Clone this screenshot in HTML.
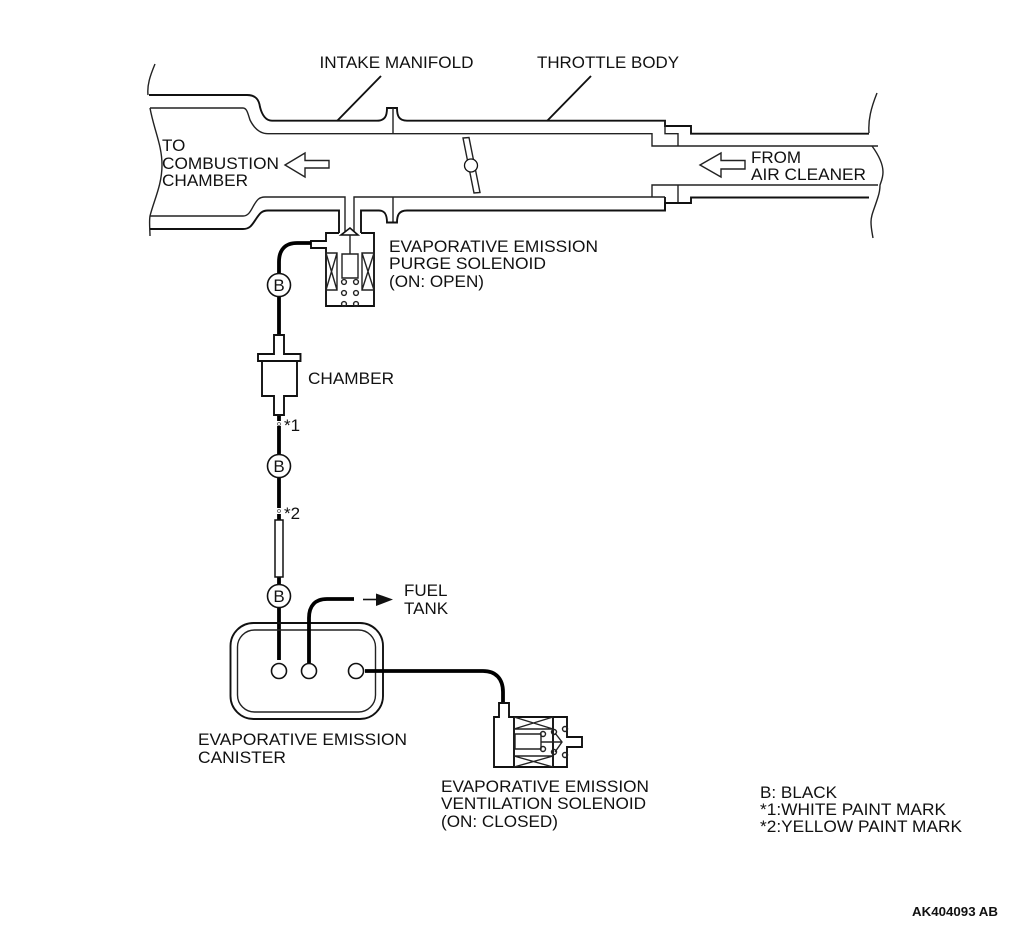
<!DOCTYPE html>
<html><head><meta charset="utf-8"><style>
html,body{margin:0;padding:0;background:#fff}
svg{display:block;filter:blur(.3px)}
text{font-family:"Liberation Sans",sans-serif;font-size:17px;fill:#111}
.a{fill:none;stroke:#111;stroke-width:1.9}
.t{fill:none;stroke:#222;stroke-width:1.4}
.k{fill:none;stroke:#000;stroke-width:3.8}
.c{fill:#fff;stroke:#111;stroke-width:1.6}
</style></head><body>
<svg width="1010" height="927" viewBox="0 0 1010 927" xmlns="http://www.w3.org/2000/svg">
<!-- break lines -->
<path class="t" d="M155 64C150 76 147 85 148 95M150 108C154 130 162 145 162 165C162 185 154 200 150 216C149 222 150 230 150 236"/>
<path class="t" d="M877 93C871 108 868 120 869 133M872 146C880 157 883 165 883 172C883 178 881 182 880 185C880 190 879 194 878 197C874 210 871 215 871 222C871 228 872 232 873 238"/>
<!-- top outer -->
<path class="a" d="M149 95H247C256 95 259 100 260 107C262 115 266 120.700 272 120.700H377C385 120.700 387 116 387 108H397C397 116 399 120.700 407 120.700H665V126H691V133.700H869"/>
<!-- top inner -->
<path class="t" d="M150 108H243C247 108 248 114 250 120C254 128 260 133.700 268 133.700H652V146H878M665 120.700V133.700H678V146M393 108V133.700"/>
<!-- bottom inner -->
<path class="t" d="M150 216H243C249 216 251 210 254 205C257 200 259 197 265 197H345V233M354 233V197H652V185H878M678 185V203M652 197H665M393 197V222"/>
<!-- bottom outer -->
<path class="a" d="M150 229H243C250 229 252 225 256 219C260 213 262 210.500 268 210.500H339V233M361 233V210.500H379C385 210.500 387 215 387 222.500H397C397 215 399 210.500 407 210.500H665V203H691V197.500H869"/>
<path class="a" d="M665 210.500V197"/>
<!-- leaders -->
<path class="a" d="M381 76L337 121M591 76L547 121"/>
<!-- flow arrows -->
<path class="t" d="M285 165L305 153V160.500H329V168H305V177Z"/>
<path class="t" d="M700 165L721 153V160.500H745V169H721V177Z"/>
<!-- throttle plate -->
<path class="t" d="M463 138L469 137.500L480 192.500L474 193Z"/>
<circle cx="471" cy="165.500" r="6.500" class="c" style="stroke-width:1.300"/>
<!-- purge solenoid -->
<path class="a" d="M339 233H326V241H311V248H326V306H374V233H361"/>
<path class="c" d="M350 228L341 235H358Z"/>
<path class="t" d="M350 235V254M342 254H358V278H342ZM326 253H337V290H326ZM326 253L337 290M337 253L326 290M362 253H374V290H362ZM362 253L374 290M374 253L362 290"/>
<g class="t"><circle cx="344" cy="282" r="2.400"/><circle cx="356" cy="282" r="2.400"/><circle cx="344" cy="293" r="2.400"/><circle cx="356" cy="293" r="2.400"/><circle cx="344" cy="304" r="2.400"/><circle cx="356" cy="304" r="2.400"/></g>
<!-- thick tube -->
<path class="k" d="M311 243H297C285 243 279 250 279 262V335M279 415V421M279 426V508M279 514V520M279 577V660"/>
<!-- chamber -->
<path class="a" d="M274 354V335H284V354H300.500V361H297V396H284V415H274V396H262V361H258V354ZM258 361H300.500"/>
<rect x="275" y="520" width="8" height="57" fill="#fff" stroke="#111" stroke-width="1.500"/>
<!-- B circles -->
<circle class="c" cx="279" cy="285" r="11.500"/>
<circle class="c" cx="279" cy="466" r="11.500"/>
<circle class="c" cx="279" cy="596" r="11.500"/>
<text x="279" y="291" text-anchor="middle">B</text>
<text x="279" y="472" text-anchor="middle">B</text>
<text x="279" y="602" text-anchor="middle">B</text>
<!-- paint marks -->
<circle cx="279" cy="424" r="1.500" fill="none" stroke="#555" stroke-width=".8"/>
<circle cx="279" cy="511" r="1.500" fill="none" stroke="#555" stroke-width=".8"/>
<!-- canister -->
<rect x="230.500" y="623" width="152.500" height="96" rx="23" class="a"/>
<rect x="237.500" y="630" width="138" height="82" rx="17" class="t"/>
<path class="k" d="M309 664V618C309 606 315 599 327 599H354M365 671H483C496 671 503 679 503 692V704"/>
<g class="c"><circle cx="279" cy="671" r="7.500"/><circle cx="309" cy="671" r="7.500"/><circle cx="356" cy="671" r="7.500"/></g>
<path d="M363 599.500H376" stroke="#111" stroke-width="1.600"/>
<path d="M376 593.500L393 599.500L376 606Z" fill="#111"/>
<!-- ventilation solenoid -->
<path class="a" d="M499 717V703H509V717H567V737H582V747H567V767H494V717ZM514 717V767M553 717V767"/>
<path class="t" d="M514 729H553M514 756H553M514 717L553 729M553 717L514 729M514 756L553 767M553 756L514 767M515 734H541V749H515ZM541 742H562M555 733L562 742L555 752"/>
<g class="t"><circle cx="543" cy="734" r="2.500"/><circle cx="543" cy="749" r="2.500"/><circle cx="554" cy="732" r="2.500"/><circle cx="554" cy="752" r="2.500"/><circle cx="565" cy="729" r="2.500"/><circle cx="565" cy="755" r="2.500"/></g>
<!-- labels -->
<text x="319.500" y="68" textLength="154" lengthAdjust="spacingAndGlyphs">INTAKE MANIFOLD</text>
<text x="537" y="68" textLength="142" lengthAdjust="spacingAndGlyphs">THROTTLE BODY</text>
<text x="162" y="151">TO</text>
<text x="162" y="169" textLength="117" lengthAdjust="spacingAndGlyphs">COMBUSTION</text>
<text x="162" y="186" textLength="86" lengthAdjust="spacingAndGlyphs">CHAMBER</text>
<text x="751" y="163">FROM</text>
<text x="751" y="180" textLength="115" lengthAdjust="spacingAndGlyphs">AIR CLEANER</text>
<text x="389" y="252" textLength="209" lengthAdjust="spacingAndGlyphs">EVAPORATIVE EMISSION</text>
<text x="389" y="269" textLength="157" lengthAdjust="spacingAndGlyphs">PURGE SOLENOID</text>
<text x="389" y="287" textLength="95" lengthAdjust="spacingAndGlyphs">(ON: OPEN)</text>
<text x="308" y="384" textLength="86" lengthAdjust="spacingAndGlyphs">CHAMBER</text>
<text x="284" y="431">*1</text>
<text x="284" y="519">*2</text>
<text x="404" y="596">FUEL</text>
<text x="404" y="614">TANK</text>
<text x="198" y="745" textLength="209" lengthAdjust="spacingAndGlyphs">EVAPORATIVE EMISSION</text>
<text x="198" y="763" textLength="88" lengthAdjust="spacingAndGlyphs">CANISTER</text>
<text x="441" y="792" textLength="208" lengthAdjust="spacingAndGlyphs">EVAPORATIVE EMISSION</text>
<text x="441" y="809" textLength="205" lengthAdjust="spacingAndGlyphs">VENTILATION SOLENOID</text>
<text x="441" y="827" textLength="117" lengthAdjust="spacingAndGlyphs">(ON: CLOSED)</text>
<text x="760" y="798" textLength="77" lengthAdjust="spacingAndGlyphs">B: BLACK</text>
<text x="760" y="815" textLength="186" lengthAdjust="spacingAndGlyphs">*1:WHITE PAINT MARK</text>
<text x="760" y="832" textLength="202" lengthAdjust="spacingAndGlyphs">*2:YELLOW PAINT MARK</text>
<text x="912" y="916" textLength="86" lengthAdjust="spacingAndGlyphs" style="font-size:13px;font-weight:bold">AK404093 AB</text>
</svg>
</body></html>
